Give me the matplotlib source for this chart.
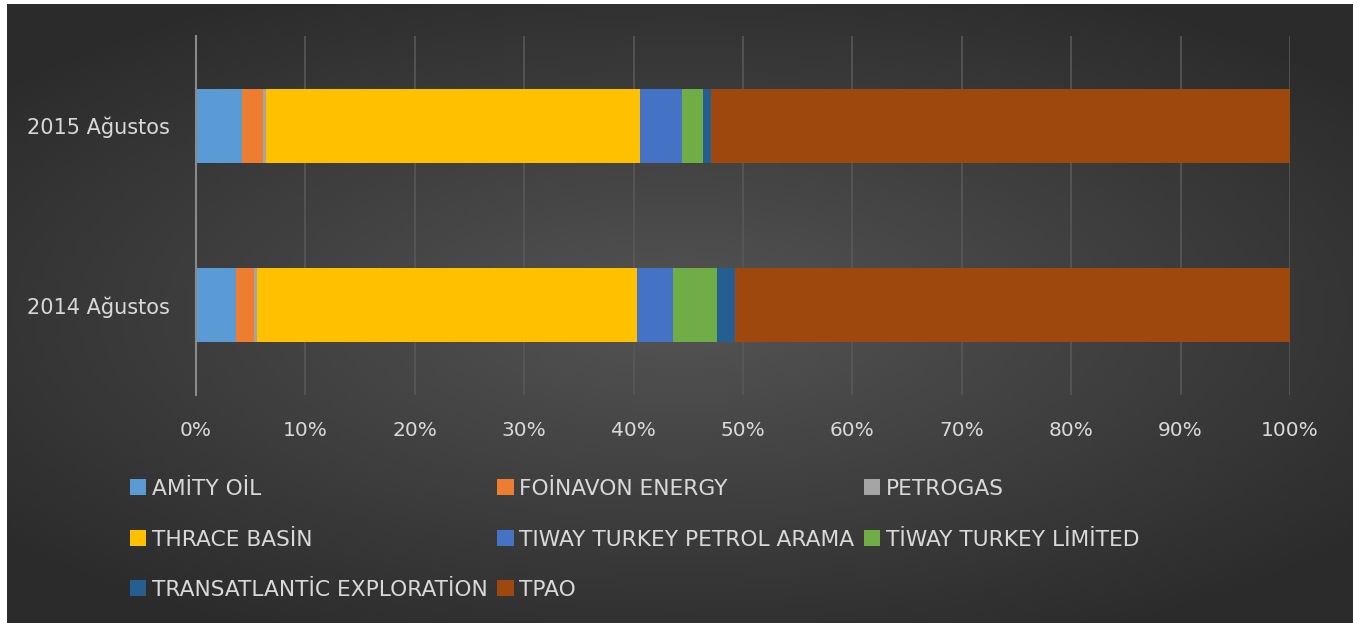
import numpy as np
import matplotlib.pyplot as plt

# Share of each company per period (percent of total)
periods = ["2014 Ağustos", "2015 Ağustos"]
companies = ["AMİTY OİL", "FOİNAVON ENERGY", "PETROGAS", "THRACE BASİN",
             "TIWAY TURKEY PETROL ARAMA", "TİWAY TURKEY LİMİTED",
             "TRANSATLANTİC EXPLORATİON", "TPAO"]
share_2014 = [3.7, 1.6, 0.3, 34.7, 3.3, 4.0, 1.7, 50.7]
share_2015 = [4.2, 1.9, 0.3, 34.2, 3.8, 1.9, 0.8, 52.9]
colors = ['#5b9bd5', '#ed7d31', '#a5a5a5', '#ffc000',
          '#4472c4', '#70ad47', '#255e91', '#9e480e']
ticks = [0, 10, 20, 30, 40, 50, 60, 70, 80, 90, 100]

W, H = 1362, 623
fig = plt.figure(figsize=(W / 100, H / 100), dpi=100, facecolor='white')

# dark radial-gradient background panel
bg = fig.add_axes([7 / W, 0, (1353 - 7) / W, 1 - 4 / H])
gx, gy = np.meshgrid(np.linspace(-1, 1, 400), np.linspace(-1, 1, 200))
r = np.sqrt((gx * 1.0) ** 2 + (gy * 1.1) ** 2)
shade = 0.33 - 0.16 * np.clip(r, 0, 1.3) / 1.3
bg.imshow(np.dstack([shade, shade, shade]), aspect='auto', extent=[0, 1, 0, 1])
bg.axis('off')

ax = fig.add_axes([196 / W, 1 - 395 / H, (1290 - 196) / W, (395 - 36) / H])
ax.patch.set_alpha(0)

data = np.array([share_2014, share_2015])
totals = data.sum(axis=1, keepdims=True)
pct = data / totals * 100
left = np.zeros(len(periods))
handles = []
for i, name in enumerate(companies):
    b = ax.barh(periods, pct[:, i], left=left, height=0.41, color=colors[i], label=name)
    handles.append(b)
    left += pct[:, i]

ax.set_xlim(0, 100)
ax.set_ylim(-0.5, 1.5)
ax.set_xticks(ticks)
ax.set_xticklabels([f"{t}%" for t in ticks])
ax.grid(axis='x', color='#585858', linewidth=1.2)
ax.set_axisbelow(True)
for s in ['top', 'right', 'bottom']:
    ax.spines[s].set_visible(False)
ax.spines['left'].set_color('#8a8a8a')
ax.spines['left'].set_linewidth(1.5)
ax.tick_params(axis='both', length=0, colors='#d9d9d9')
ax.tick_params(axis='x', pad=19, labelsize=14.5)
ax.tick_params(axis='y', pad=19, labelsize=15)

# Excel legend order is row-major; matplotlib fills columns first
order = [0, 3, 6, 1, 4, 7, 2, 5]
leg = fig.legend([handles[k] for k in order], [companies[k] for k in order],
                 ncol=3, loc='upper left', bbox_to_anchor=(130 / W, 1 - 479 / H),
                 frameon=False, fontsize=15.7, handlelength=0.75, handleheight=0.75,
                 handletextpad=0.25, columnspacing=0.45, labelspacing=1.4,
                 borderpad=0, borderaxespad=0)
for t in leg.get_texts():
    t.set_color('#d9d9d9')

fig.savefig("out.png", dpi=100, facecolor=fig.get_facecolor())
